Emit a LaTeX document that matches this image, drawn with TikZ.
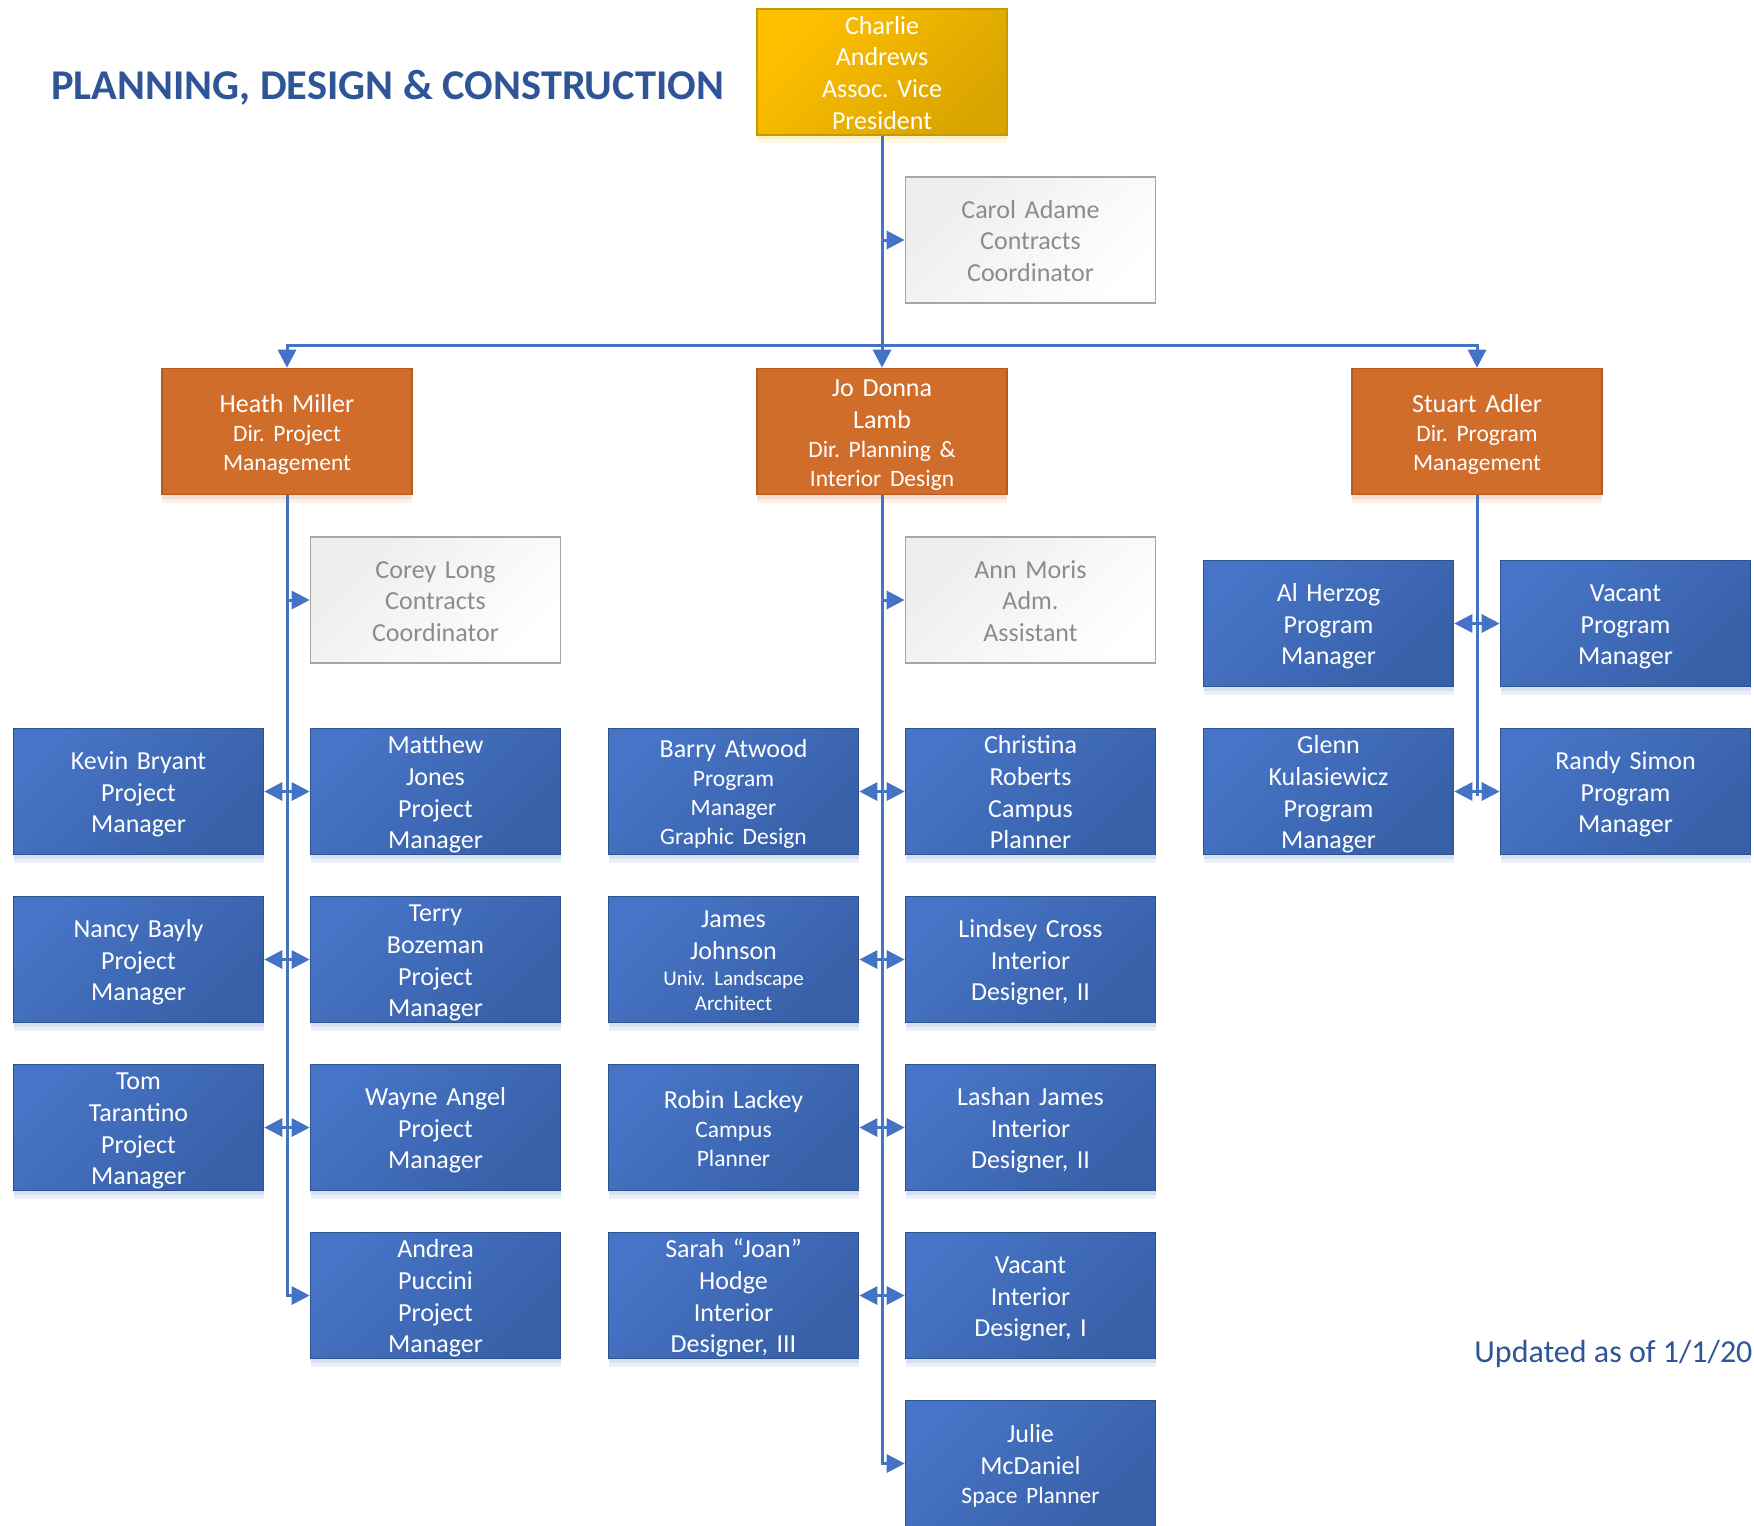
\documentclass[tikz,border=0pt]{standalone}
\usepackage{fontspec}
\setmainfont{Carlito}
\usetikzlibrary{arrows.meta,shadows}
\definecolor{bluetop}{HTML}{4674C6}
\definecolor{bluebot}{HTML}{3860A8}
\definecolor{blueborder}{HTML}{2F528F}
\definecolor{conncol}{HTML}{4472C4}
\definecolor{orangefill}{HTML}{D06D2B}
\definecolor{orangeborder}{HTML}{B55B22}
\definecolor{goldtop}{HTML}{FFC000}
\definecolor{goldbot}{HTML}{D9A400}
\definecolor{goldborder}{HTML}{C49A00}
\definecolor{graytop}{HTML}{EDEDED}
\definecolor{grayborder}{HTML}{A6A6A6}
\definecolor{graytext}{HTML}{8C8C8C}
\definecolor{titleblue}{HTML}{2F5597}
\newcommand{\subt}{\fontsize{11.75}{14.2}\selectfont}
\newcommand{\subs}{\fontsize{10.5}{12.6}\selectfont}
\frenchspacing
\begin{document}
\begin{tikzpicture}[x=0.5pt,y=-0.5pt,
  box/.style={rectangle, minimum width=125pt, minimum height=63pt, inner sep=0pt,
    align=center, text width=122pt, line width=0.8pt,
    font=\fontsize{13}{15.8}\selectfont,
    execute at begin node={\rule{0pt}{12pt}},
    execute at end node={\vphantom{g}}},
  softshadow/.style={general shadow={shadow yshift=-4pt, fill=#1, opacity=0.10},
    general shadow={shadow yshift=-2pt, fill=#1, opacity=0.12}},
  bluebox/.style={box, softshadow=conncol, draw=blueborder, top color=bluetop, bottom color=bluebot, shading angle=45, text=white},
  orangebox/.style={box, softshadow=orangefill, draw=orangeborder, fill=orangefill, text=white},
  goldbox/.style={box, softshadow=goldtop, draw=goldborder, top color=goldtop, bottom color=goldbot, shading angle=45, text=white},
  graybox/.style={box, draw=grayborder, top color=graytop, bottom color=white, shading angle=45, text=graytext},
  conn/.style={conncol, line width=1.5pt},
  arr/.style={conn, -{Triangle[length=9pt,width=9pt]}},
]
\useasboundingbox (0,0) rectangle (1754,1525);
\clip (0,0) rectangle (1754,1525);
\fill[white] (0,0) rectangle (1754,1525);

% title
\node[anchor=base west, inner sep=0pt, text=titleblue, font=\fontsize{21.2}{25}\selectfont\bfseries] (title) at (51,99.3) {PLANNING, DESIGN \& CONSTRUCTION};
\node[anchor=base west, inner sep=0pt, text=titleblue, font=\fontsize{16}{19}\selectfont] (updated) at (1474,1362.7) {Updated as of 1/1/20};

% top
\node[goldbox] (charlie) at (882,72) {Charlie\\Andrews\\Assoc. Vice\\President};
\node[graybox] (carol) at (1030.5,240) {Carol Adame\\Contracts\\Coordinator};
\coordinate (bus) at (882,345);

% directors
\node[orangebox] (heath) at (287,431.5) {Heath Miller\\[-1.3pt]{\subt Dir. Project}\\[-1.3pt]{\subt Management}};
\node[orangebox] (jo) at (882,431.5) {Jo Donna\\Lamb\\[-1.3pt]{\subt Dir. Planning \&}\\[-1.3pt]{\subt Interior Design}};
\node[orangebox] (stuart) at (1477,431.5) {Stuart Adler\\[-1.3pt]{\subt Dir. Program}\\[-1.3pt]{\subt Management}};

% assistants
\node[graybox] (corey) at (435.5,600) {Corey Long\\Contracts\\Coordinator};
\node[graybox] (ann) at (1030.5,600) {Ann Moris\\Adm.\\Assistant};

% Heath column
\node[bluebox] (kevin) at (138.5,791.5) {Kevin Bryant\\Project\\Manager};
\node[bluebox] (matthew) at (435.5,791.5) {Matthew\\Jones\\Project\\Manager};
\node[bluebox] (nancy) at (138.5,959.5) {Nancy Bayly\\Project\\Manager};
\node[bluebox] (terry) at (435.5,959.5) {Terry\\Bozeman\\Project\\Manager};
\node[bluebox] (tom) at (138.5,1127.5) {Tom\\Tarantino\\Project\\Manager};
\node[bluebox] (wayne) at (435.5,1127.5) {Wayne Angel\\Project\\Manager};
\node[bluebox] (andrea) at (435.5,1295.5) {Andrea\\Puccini\\Project\\Manager};

% Jo column
\node[bluebox] (barry) at (733.5,791.5) {Barry Atwood\\[-1.3pt]{\subt Program}\\[-1.3pt]{\subt Manager}\\[-1.3pt]{\subt Graphic Design}};
\node[bluebox] (christina) at (1030.5,791.5) {Christina\\Roberts\\Campus\\Planner};
\node[bluebox] (james) at (733.5,959.5) {James\\Johnson\\[-2.5pt]{\subs Univ. Landscape}\\[-3.2pt]{\subs Architect}};
\node[bluebox] (lindsey) at (1030.5,959.5) {Lindsey Cross\\Interior\\Designer, II};
\node[bluebox] (robin) at (733.5,1127.5) {Robin Lackey\\[-1.3pt]{\subt Campus}\\[-1.3pt]{\subt Planner}};
\node[bluebox] (lashan) at (1030.5,1127.5) {Lashan James\\Interior\\Designer, II};
\node[bluebox] (sarah) at (733.5,1295.5) {Sarah “Joan”\\Hodge\\Interior\\Designer, III};
\node[bluebox] (vacantid) at (1030.5,1295.5) {Vacant\\Interior\\Designer, I};
\node[bluebox] (julie) at (1030.5,1463.5) {Julie\\McDaniel\\[-1.3pt]{\subt Space Planner}};

% Stuart column
\node[bluebox] (alherzog) at (1328.5,623.5) {Al Herzog\\Program\\Manager};
\node[bluebox] (vacantpm) at (1625.5,623.5) {Vacant\\Program\\Manager};
\node[bluebox] (glenn) at (1328.5,791.5) {Glenn\\Kulasiewicz\\Program\\Manager};
\node[bluebox] (randy) at (1625.5,791.5) {Randy Simon\\Program\\Manager};

% connectors: top
\draw[arr] (charlie.south) -- (jo.north);
\draw[arr] (charlie.south |- carol.west) -- (carol.west);
\draw[arr] (bus) -| (heath.north);
\draw[arr] (bus) -| (stuart.north);

% Heath
\draw[arr] (heath.south) |- (andrea.west);
\draw[arr] (heath.south |- corey.west) -- (corey.west);
\foreach \l/\r in {kevin/matthew, nancy/terry, tom/wayne}{
  \draw[arr] (heath.south |- \l.east) -- (\l.east);
  \draw[arr] (heath.south |- \r.west) -- (\r.west);
}

% Jo
\draw[arr] (jo.south) |- (julie.west);
\draw[arr] (jo.south |- ann.west) -- (ann.west);
\foreach \l/\r in {barry/christina, james/lindsey, robin/lashan, sarah/vacantid}{
  \draw[arr] (jo.south |- \l.east) -- (\l.east);
  \draw[arr] (jo.south |- \r.west) -- (\r.west);
}

% Stuart
\coordinate (stend) at ([yshift=-2pt]stuart.south |- glenn.east);
\draw[conn] (stuart.south) -- (stend);
\foreach \l/\r in {alherzog/vacantpm, glenn/randy}{
  \draw[arr] (stuart.south |- \l.east) -- (\l.east);
  \draw[arr] (stuart.south |- \r.west) -- (\r.west);
}
\end{tikzpicture}
\end{document}
